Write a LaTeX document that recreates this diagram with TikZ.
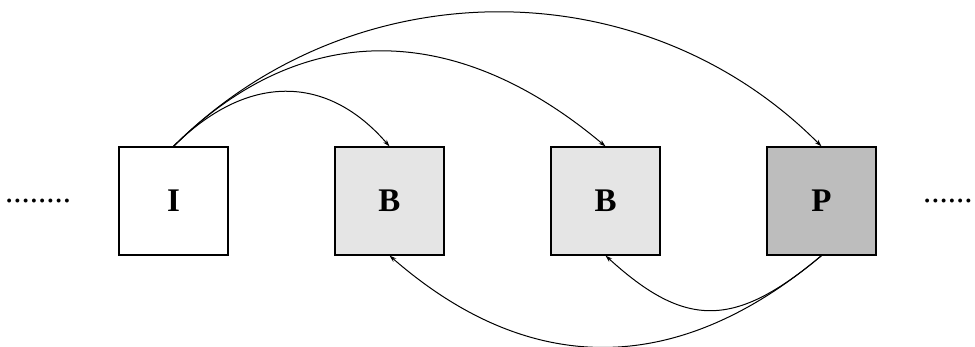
\documentclass[tikz,border=0pt]{standalone}
\usepackage{fontspec}
\setmainfont{Liberation Serif}
\usetikzlibrary{arrows.meta}

\begin{document}
\begin{tikzpicture}[x=1pt,y=-1pt,
  frame/.style={draw=black,line width=1.2pt,minimum width=109pt,minimum height=108pt,
    inner sep=0pt,font=\fontsize{33}{33}\selectfont\bfseries},
  iframe/.style={frame,fill=white},
  bframe/.style={frame,fill=black!10},
  pframe/.style={frame,fill=black!26},
  link/.style={draw=black,line width=1pt,-{Stealth[length=7pt,width=4.5pt]}},
  ellipsis/.style={inner sep=0pt,anchor=base west,font=\fontsize{33}{33}\selectfont}]
  \useasboundingbox (0,0) rectangle (975,347);

  % frames of the sequence
  \node[iframe] (I)  at (173.5,201) {I};
  \node[bframe] (B1) at (389.5,201) {B};
  \node[bframe] (B2) at (605.5,201) {B};
  \node[pframe] (P)  at (821.5,201) {P};

  % continuation marks
  \node[ellipsis] (more-l) at (5,202.3) {........};
  \node[ellipsis] (more-r) at (923,202.3) {......};

  % forward references from the I frame
  \draw[link] (I.north) .. controls +(73,-73) and +(-63,-73) .. (B1.north);
  \draw[link] (I.north) .. controls +(127,-127) and +(-151,-127) .. (B2.north);
  \draw[link] (I.north) .. controls +(179,-179) and +(-178,-179) .. (P.north);

  % backward references from the P frame
  \draw[link] (P.south) .. controls +(-87,73) and +(80,73) .. (B2.south);
  \draw[link] (P.south) .. controls +(-145,122) and +(140,122) .. (B1.south);
\end{tikzpicture}
\end{document}
